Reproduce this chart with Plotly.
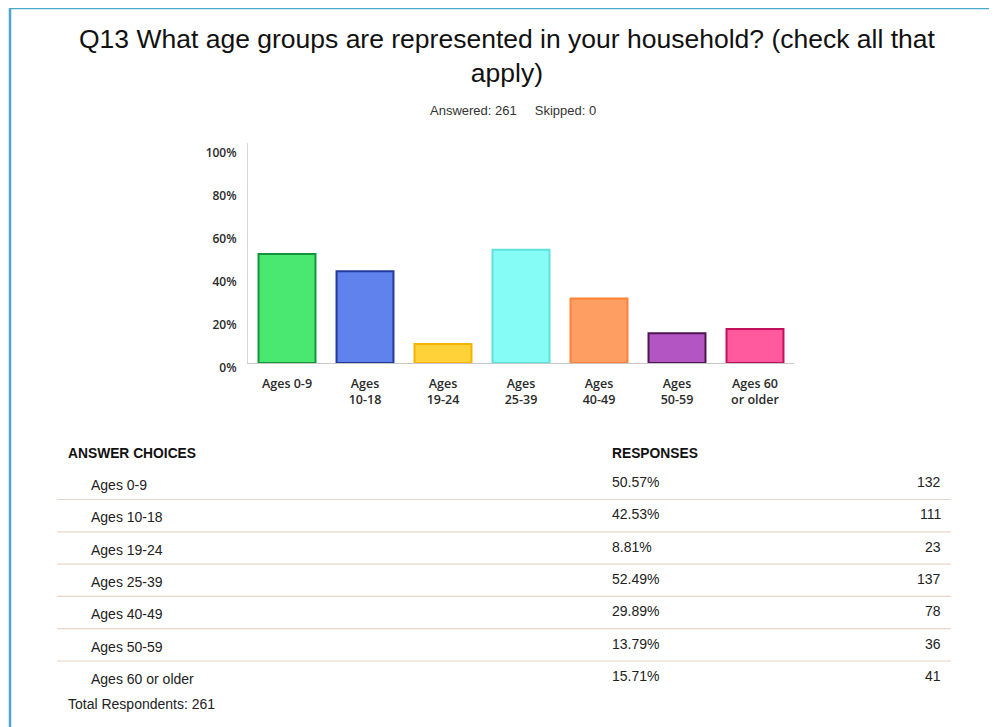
import plotly.graph_objects as go

# Survey data
categories = ["Ages 0-9", "Ages 10-18", "Ages 19-24", "Ages 25-39",
              "Ages 40-49", "Ages 50-59", "Ages 60 or older"]
tick_labels = ["Ages 0-9", "Ages<br>10-18", "Ages<br>19-24", "Ages<br>25-39",
               "Ages<br>40-49", "Ages<br>50-59", "Ages 60<br>or older"]
percents = [50.57, 42.53, 8.81, 52.49, 29.89, 13.79, 15.71]
counts = [132, 111, 23, 137, 78, 36, 41]
answered = 261
skipped = 0
total_respondents = 261

fill_colors = ["#4ae870", "#5f82ec", "#ffd23a", "#86fcf6",
               "#ff9e62", "#b356c4", "#ff5a9e"]
line_colors = ["#12963c", "#23389a", "#f4b400", "#5fe2da",
               "#ff8236", "#4e1652", "#c4105c"]

# screen pixels (page body has an 8px margin)
W, H = 997, 727
OFF = 8
PX0, PX1 = 248, 794
PY0, PY1 = 143, 363


def px(x):
    return (x - PX0) / (PX1 - PX0)


def py(y):
    return (PY1 - y) / (PY1 - PY0)


fig = go.Figure()

fig.add_trace(go.Bar(
    x=categories,
    y=[p / 100 for p in percents],
    marker=dict(color=fill_colors, line=dict(color=line_colors, width=2)),
    hovertemplate="%{x}: %{y:.2%}<extra></extra>",
))

# title and subtitle
fig.add_annotation(
    x=px(507), y=py(56), xref="paper", yref="paper", showarrow=False,
    text="Q13 What age groups are represented in your household? (check all that<br>apply)",
    font=dict(family="Liberation Sans, Arial", size=26.5, color="#111111"),
    align="center", xanchor="center", yanchor="middle",
)
fig.add_annotation(
    x=px(513), y=py(110), xref="paper", yref="paper", showarrow=False,
    text=f"Answered: {answered}&nbsp;&nbsp;&nbsp;&nbsp;&nbsp;Skipped: {skipped}",
    font=dict(family="Liberation Sans, Arial", size=13, color="#333333"),
    xanchor="center", yanchor="middle",
)

# response table
table_font = dict(family="Liberation Sans, Arial", size=14, color="#222222")
head_font = dict(family="Liberation Sans, Arial", size=13.8, color="#111111", weight="bold")

fig.add_annotation(x=px(66), y=py(453), xref="paper", yref="paper", showarrow=False,
                   text="ANSWER CHOICES", font=head_font, xanchor="left", yanchor="middle")
fig.add_annotation(x=px(610), y=py(453), xref="paper", yref="paper", showarrow=False,
                   text="RESPONSES", font=head_font, xanchor="left", yanchor="middle")

row0 = 484
pitch = 32.3
for i, (cat, pct, cnt) in enumerate(zip(categories, percents, counts)):
    yrow = row0 + i * pitch
    fig.add_annotation(x=px(89), y=py(yrow + 1), xref="paper", yref="paper", showarrow=False,
                       text=cat, font=table_font, xanchor="left", yanchor="middle")
    fig.add_annotation(x=px(610), y=py(yrow - 2), xref="paper", yref="paper", showarrow=False,
                       text=f"{pct:.2f}%", font=table_font, xanchor="left", yanchor="middle")
    fig.add_annotation(x=px(943), y=py(yrow - 2), xref="paper", yref="paper", showarrow=False,
                       text=str(cnt), font=table_font, xanchor="right", yanchor="middle")
    if i < len(categories) - 1:
        yl = yrow + 15.5
        fig.add_shape(type="line", xref="paper", yref="paper",
                      x0=px(57), x1=px(951), y0=py(yl), y1=py(yl),
                      line=dict(color="#e9d6c8", width=1.2))

fig.add_annotation(x=px(66), y=py(704), xref="paper", yref="paper", showarrow=False,
                   text=f"Total Respondents: {total_respondents}", font=table_font,
                   xanchor="left", yanchor="middle")

# outer frame (blue border, runs off the right and bottom edges)
fig.add_shape(type="rect", xref="paper", yref="paper",
              x0=px(10), x1=px(1020), y0=py(8), y1=py(760),
              line=dict(color="#4aa9c9", width=2.5), layer="below")

fig.update_layout(
    width=W, height=H,
    margin=dict(l=PX0 - OFF, r=W - (PX1 - OFF), t=PY0 - OFF, b=H - (PY1 - OFF)),
    paper_bgcolor="white", plot_bgcolor="white",
    showlegend=False, bargap=0.27,
    xaxis=dict(
        tickvals=categories, ticktext=tick_labels,
        showline=True, linecolor="#c8c8c8", linewidth=1,
        ticks="outside", ticklen=9, tickcolor="rgba(0,0,0,0)",
        tickfont=dict(family="Open Sans", size=12.5, color="#2a2a2a", weight=600),
        range=[-0.5, 6.5], fixedrange=True,
    ),
    yaxis=dict(
        range=[0, 1.02], tickvals=[0, 0.2, 0.4, 0.6, 0.8, 1.0],
        ticktext=["0%", "20%", "40%", "60%", "80%", "100%"],
        showgrid=False, zeroline=False,
        showline=True, linecolor="#d8d8d8", linewidth=1,
        ticks="outside", ticklen=8, tickcolor="rgba(0,0,0,0)",
        ticklabelshift=5,
        tickfont=dict(family="Open Sans", size=12, color="#2a2a2a", weight=600),
        fixedrange=True,
    ),
)

fig.write_html("out.html")
